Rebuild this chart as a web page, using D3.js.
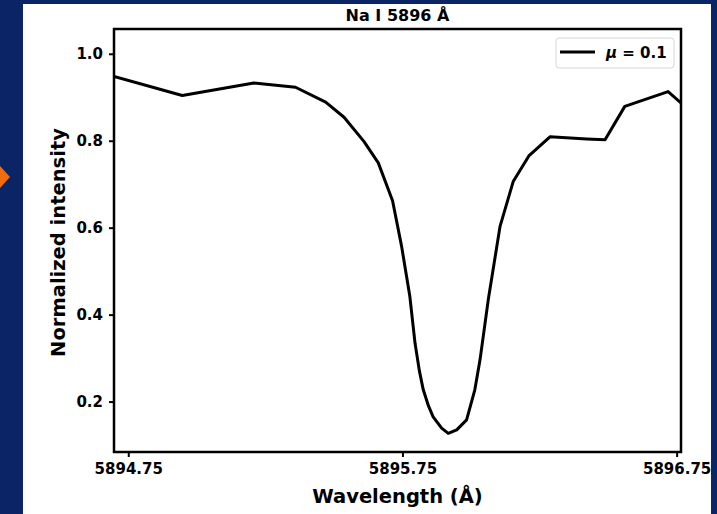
<!DOCTYPE html>
<html>
<head>
<meta charset="utf-8">
<script src="https://cdn.jsdelivr.net/npm/d3@7"></script>
<style>
  html, body { margin: 0; padding: 0; background: #0b2466; }
  svg { display: block; }
  text { font-family: "DejaVu Sans", sans-serif; font-weight: bold; fill: #000; }
  .axis path, .axis line { stroke: #000; }
</style>
</head>
<body>
<svg id="chart" width="717" height="514"></svg>
<script>
// wavelength (Å) and normalized intensity
const wavelength = [
  5894.698, 5894.947, 5895.208, 5895.360, 5895.470, 5895.537, 5895.610, 5895.662,
  5895.714, 5895.747, 5895.777, 5895.796, 5895.812, 5895.826, 5895.845, 5895.862,
  5895.893, 5895.917, 5895.948, 5895.984, 5896.014, 5896.033, 5896.063, 5896.106,
  5896.154, 5896.211, 5896.288, 5896.422, 5896.489, 5896.561, 5896.719, 5896.766
];
const intensity = [
  0.948, 0.904, 0.933, 0.923, 0.889, 0.854, 0.798, 0.749,
  0.662, 0.557, 0.442, 0.334, 0.270, 0.227, 0.190, 0.165,
  0.139, 0.127, 0.135, 0.158, 0.227, 0.296, 0.434, 0.603,
  0.706, 0.765, 0.809, 0.804, 0.802, 0.879, 0.913, 0.887
];
const xTicks = [5894.75, 5895.75, 5896.75];
const yTicks = [0.2, 0.4, 0.6, 0.8, 1.0];
const seriesLabel = "0.1";

const svg = d3.select('#chart');
const plot = {left: 114, right: 681, top: 29, bottom: 452};

// figure panel
svg.append('rect').attr('x', 23).attr('y', 4).attr('width', 688).attr('height', 510).attr('fill', '#fff');
// orange arrow tip at the left edge
svg.append('path').attr('d', 'M0,166 L10,177 L0,188 Z').attr('fill', '#f26b0f');

const x = d3.scaleLinear().domain([5894.698, 5896.766]).range([plot.left, plot.right]);
const y = d3.scaleLinear().domain([0.084, 1.057]).range([plot.bottom, plot.top]);

const xAxis = d3.axisBottom(x).tickValues(xTicks).tickFormat(d3.format('.2f')).tickSize(5).tickPadding(6);
const yAxis = d3.axisLeft(y).tickValues(yTicks).tickFormat(d3.format('.1f')).tickSize(5).tickPadding(6);

const gx = svg.append('g').attr('class', 'axis').attr('transform', `translate(0,${plot.bottom})`).call(xAxis);
const gy = svg.append('g').attr('class', 'axis').attr('transform', `translate(${plot.left},0)`).call(yAxis);
[gx, gy].forEach(g => {
  g.select('.domain').remove();
  g.selectAll('line').attr('stroke-width', 2);
  g.selectAll('text').style('font-size', '15px');
});

// curve
const data = wavelength.map((w, i) => ({w, v: intensity[i]}));
const line = d3.line().x(d => x(d.w)).y(d => y(d.v));
svg.append('defs').append('clipPath').attr('id', 'clip')
  .append('rect').attr('x', plot.left).attr('y', plot.top)
  .attr('width', plot.right - plot.left).attr('height', plot.bottom - plot.top);
svg.append('path')
  .attr('d', line(data))
  .attr('clip-path', 'url(#clip)')
  .attr('fill', 'none').attr('stroke', '#000').attr('stroke-width', 3).attr('stroke-linejoin', 'round');

// frame
svg.append('rect')
  .attr('x', plot.left).attr('y', plot.top)
  .attr('width', plot.right - plot.left).attr('height', plot.bottom - plot.top)
  .attr('fill', 'none').attr('stroke', '#000').attr('stroke-width', 2.5);

// title and axis labels
svg.append('text').attr('x', (plot.left + plot.right) / 2).attr('y', 21)
  .attr('text-anchor', 'middle').style('font-size', '16px').text('Na I 5896 Å');
svg.append('text').attr('x', (plot.left + plot.right) / 2).attr('y', 503)
  .attr('text-anchor', 'middle').style('font-size', '19.5px').text('Wavelength (Å)');
svg.append('text').attr('transform', `translate(65,${(plot.top + plot.bottom) / 2 + 2}) rotate(-90)`)
  .attr('text-anchor', 'middle').style('font-size', '19.5px').text('Normalized intensity');

// legend
const lg = svg.append('g').attr('transform', 'translate(556,38)');
lg.append('rect').attr('width', 118).attr('height', 30).attr('rx', 3)
  .attr('fill', '#fff').attr('stroke', '#d6d6d6').attr('stroke-width', 1);
lg.append('line').attr('x1', 4).attr('x2', 39).attr('y1', 14).attr('y2', 14)
  .attr('stroke', '#000').attr('stroke-width', 3);
const lt = lg.append('text').attr('x', 50).attr('y', 20).style('font-size', '15px');
lt.append('tspan').style('font-style', 'italic').text('μ');
lt.append('tspan').text(' = ' + seriesLabel);
</script>
</body>
</html>
